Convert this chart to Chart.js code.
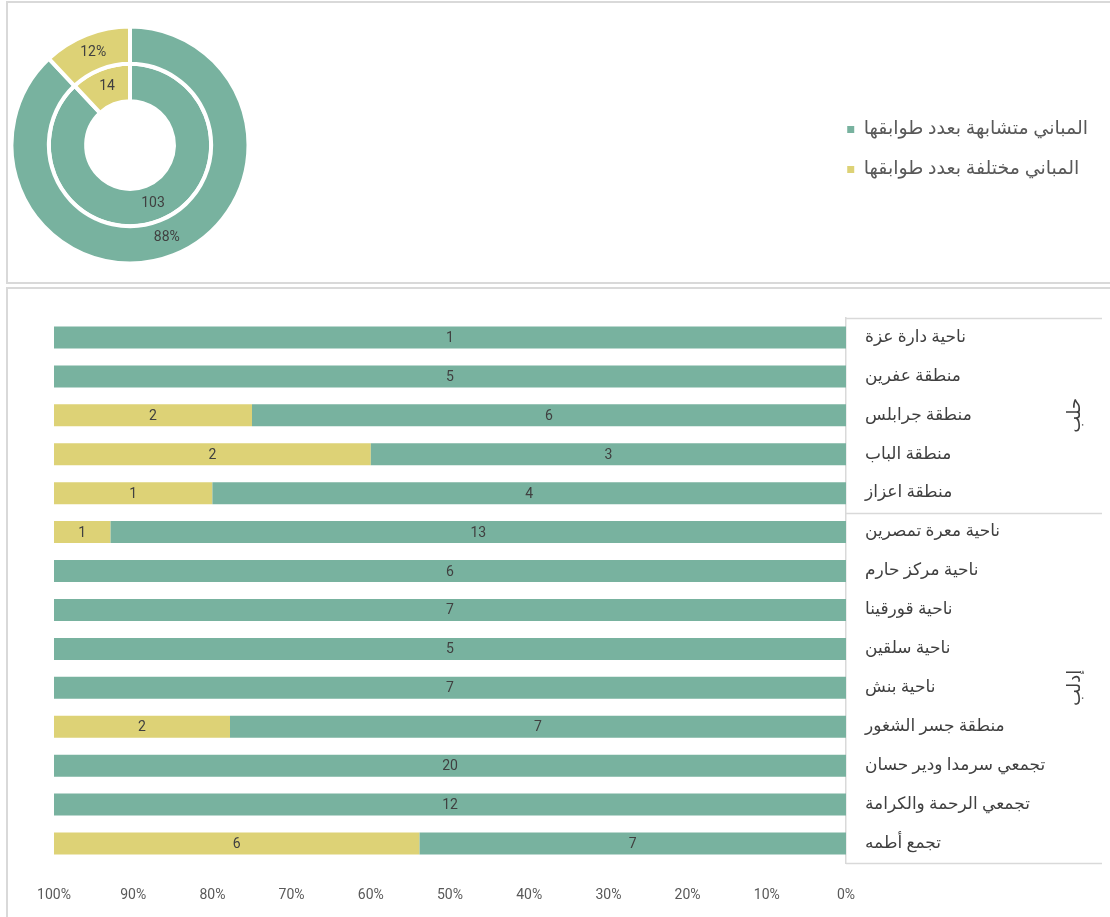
<!DOCTYPE html>
<html lang="ar">
<head>
<meta charset="utf-8">
<script src="https://cdn.jsdelivr.net/npm/chart.js@4.4.1/dist/chart.umd.min.js"></script>
<style>
  html, body { margin: 0; padding: 0; background: #fff; overflow: hidden; }
  body { width: 1110px; height: 917px; position: relative; }
  .box { position: absolute; border: 2px solid #d9d9d9; box-sizing: border-box; }
  canvas { position: absolute; display: block; }
</style>
</head>
<body>
<div class="box" style="left:6px; top:1px; width:1120px; height:283px;"></div>
<div class="box" style="left:6px; top:287px; width:1120px; height:650px;"></div>
<canvas id="ring" width="1102" height="279" style="left:8px; top:3px;"></canvas>
<canvas id="floors" width="1094" height="628" style="left:8px; top:289px;"></canvas>
<script>
// summary rings
const ringLabels = ['المباني متشابهة بعدد طوابقها', 'المباني مختلفة بعدد طوابقها'];
const ringShares = [88, 12];
const ringCounts = [103, 14];

// per-area breakdown
const areaNames = [
  'ناحية دارة عزة', 'منطقة عفرين', 'منطقة جرابلس', 'منطقة الباب', 'منطقة اعزاز',
  'ناحية معرة تمصرين', 'ناحية مركز حارم', 'ناحية قورقينا', 'ناحية سلقين', 'ناحية بنش',
  'منطقة جسر الشغور', 'تجمعي سرمدا ودير حسان', 'تجمعي الرحمة والكرامة', 'تجمع أطمه'
];
const sameFloors = [1, 5, 6, 3, 4, 13, 6, 7, 5, 7, 7, 20, 12, 7];
const diffFloors = [0, 0, 2, 2, 1, 1, 0, 0, 0, 0, 2, 0, 0, 6];
const groupNames = ['حلب', 'إدلب'];
const groupSizes = [5, 9];
const percentTicks = [0, 10, 20, 30, 40, 50, 60, 70, 80, 90, 100];

const GREEN = '#78b29f';
const YELLOW = '#ddd276';
const LABEL_FONT = 'Roboto, "DejaVu Sans", sans-serif';

// keep the doughnut in the left corner, legend stays where layout put it
const pinRing = {
  id: 'pinRing',
  afterLayout(chart) {
    const a = chart.chartArea;
    a.left = 1.5; a.right = 242.5; a.top = 21.5; a.bottom = 262.5;
    a.width = 241; a.height = 241;
  }
};

const ringNotes = {
  id: 'ringNotes',
  afterDatasetsDraw(chart) {
    const ctx = chart.ctx;
    ctx.save();
    ctx.font = '14px ' + LABEL_FONT;
    ctx.fillStyle = '#404040';
    ctx.textAlign = 'center';
    ctx.textBaseline = 'middle';
    chart.getDatasetMeta(0).data.forEach((arc, i) => {
      const p = arc.getCenterPoint();
      ctx.fillText(ringShares[i] + '%', p.x, p.y);
    });
    chart.getDatasetMeta(1).data.forEach((arc, i) => {
      const p = arc.getCenterPoint();
      ctx.fillText(String(ringCounts[i]), p.x, p.y);
    });
    ctx.restore();
  }
};

new Chart(document.getElementById('ring'), {
  type: 'doughnut',
  data: {
    labels: ringLabels,
    datasets: [
      { data: ringShares, backgroundColor: [GREEN, YELLOW], borderColor: '#fff', borderWidth: 4, hoverBorderWidth: 4, clip: false },
      { data: ringCounts, backgroundColor: [GREEN, YELLOW], borderColor: '#fff', borderWidth: 4, hoverBorderWidth: 4, clip: false }
    ]
  },
  options: {
    responsive: false,
    animation: false,
    cutout: '37%',
    layout: { padding: { top: 14, right: 12 } },
    plugins: {
      tooltip: { enabled: false },
      legend: {
        position: 'right',
        labels: {
          boxWidth: 7,
          boxHeight: 7,
          padding: 21,
          color: '#595959',
          font: { family: LABEL_FONT, size: 19 },
          generateLabels: () => ringLabels.map((text, i) => ({
            text,
            fillStyle: [GREEN, YELLOW][i],
            strokeStyle: [GREEN, YELLOW][i],
            fontColor: '#595959',
            lineWidth: 0,
            hidden: false,
            index: i
          }))
        }
      }
    }
  },
  plugins: [pinRing, ringNotes]
});

// bars are shares of each area's total, labels show the counts
const rowTotals = sameFloors.map((v, i) => v + diffFloors[i]);
const sameShare = sameFloors.map((v, i) => v / rowTotals[i] * 100);
const diffShare = diffFloors.map((v, i) => v / rowTotals[i] * 100);

const barNotes = {
  id: 'barNotes',
  afterDatasetsDraw(chart) {
    const ctx = chart.ctx;
    ctx.save();
    ctx.font = '14px ' + LABEL_FONT;
    ctx.fillStyle = '#404040';
    ctx.textAlign = 'center';
    ctx.textBaseline = 'middle';
    [sameFloors, diffFloors].forEach((counts, di) => {
      chart.getDatasetMeta(di).data.forEach((bar, i) => {
        if (!counts[i]) return;
        const p = bar.getCenterPoint();
        ctx.fillText(String(counts[i]), p.x, p.y + 1);
      });
    });
    ctx.restore();
  },
  afterDraw(chart) {
    const ctx = chart.ctx;
    const ys = chart.scales.y;
    const half = (ys.getPixelForValue(1) - ys.getPixelForValue(0)) / 2;
    const edge = idx => ys.getPixelForValue(idx) - half;
    ctx.save();
    ctx.strokeStyle = '#d9d9d9';
    ctx.lineWidth = 1.5;
    let start = 0;
    const cuts = [0];
    groupSizes.forEach(n => { start += n; cuts.push(start); });
    cuts.forEach(k => {
      const y = Math.round(edge(k)) + 0.5;
      ctx.beginPath();
      ctx.moveTo(ys.left, y);
      ctx.lineTo(chart.width, y);
      ctx.stroke();
    });
    // region names, rotated
    ctx.font = '18px ' + LABEL_FONT;
    ctx.fillStyle = '#404040';
    ctx.textAlign = 'center';
    ctx.textBaseline = 'middle';
    groupNames.forEach((name, g) => {
      const mid = (edge(cuts[g]) + edge(cuts[g + 1])) / 2;
      ctx.save();
      ctx.translate(1067, mid);
      ctx.rotate(-Math.PI / 2);
      ctx.fillText(name, 0, 0);
      ctx.restore();
    });
    ctx.restore();
  }
};

new Chart(document.getElementById('floors'), {
  type: 'bar',
  data: {
    labels: areaNames,
    datasets: [
      { label: ringLabels[0], data: sameShare, backgroundColor: GREEN, barPercentage: 0.565, categoryPercentage: 1 },
      { label: ringLabels[1], data: diffShare, backgroundColor: YELLOW, barPercentage: 0.565, categoryPercentage: 1 }
    ]
  },
  options: {
    indexAxis: 'y',
    responsive: false,
    animation: false,
    layout: { padding: { left: 46, top: 29, right: 0, bottom: 0 } },
    plugins: {
      legend: { display: false },
      tooltip: { enabled: false }
    },
    scales: {
      x: {
        stacked: true,
        reverse: true,
        min: 0,
        max: 100,
        afterBuildTicks: s => { s.ticks = percentTicks.map(v => ({ value: v })); },
        afterFit: s => { s.height = 54; },
        grid: { display: false },
        border: { display: false },
        ticks: {
          padding: 16,
          maxRotation: 0,
          color: '#595959',
          font: { family: LABEL_FONT, size: 14 },
          callback: v => v + '%'
        }
      },
      y: {
        stacked: true,
        position: 'right',
        grid: { display: false },
        border: { display: true, color: '#d9d9d9', width: 1.5 },
        afterFit: s => { s.width = 256; },
        ticks: {
          padding: 11,
          color: '#404040',
          font: { family: LABEL_FONT, size: 17 }
        }
      }
    }
  },
  plugins: [barNotes]
});
</script>
</body>
</html>
